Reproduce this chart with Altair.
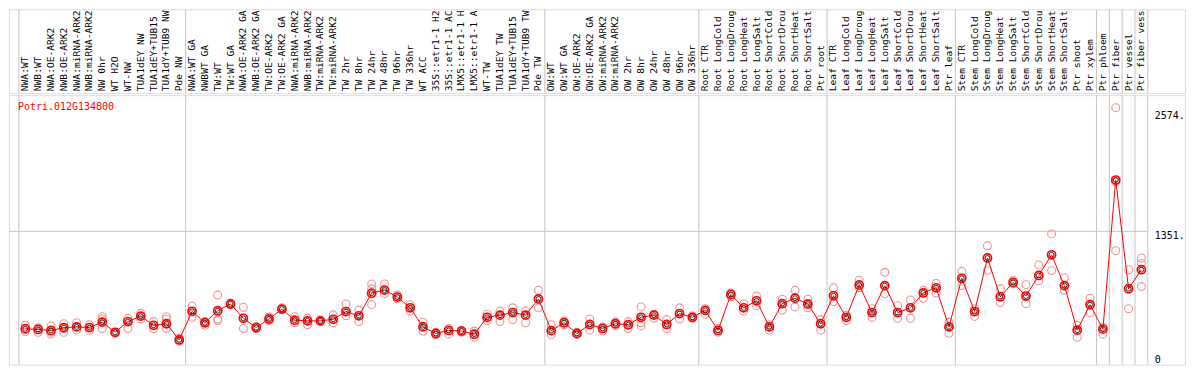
import altair as alt
import pandas as pd

gene = "Potri.012G134800"

samples = [
    "NWA:WT", "NWB:WT", "NWA:OE-ARK2", "NWB:OE-ARK2", "NWA:miRNA-ARK2", "NWB:miRNA-ARK2",
    "NW 0hr", "WT H2O", "WT-NW", "TUA1dEY NW", "TUA1dEY+TUB15", "TUA1dY+TUB9 NW", "Pde NW",
    "NWA:WT GA", "NWBWT GA", "TW:WT", "TW:WT GA", "NWA:OE-ARK2 GA", "NWB:OE-ARK2 GA",
    "TW:OE-ARK2", "TW:OE-ARK2 GA", "NWA:miRNA-ARK2", "NWB:miRNA-ARK2", "TW:miRNA-ARK2",
    "TW:miRNA-ARK2", "TW 2hr", "TW 8hr", "TW 24hr", "TW 48hr", "TW 96hr", "TW 336hr",
    "WT ACC", "35S::etr1-1 H2", "35S::etr1-1 AC", "LMX5::etr1-1 H", "LMX5::etr1-1 A",
    "WT-TW", "TUA1dEY TW", "TUA1dEY+TUB15", "TUA1dY+TUB9 TW", "Pde TW",
    "OW:WT", "OW:WT GA", "OW:OE-ARK2", "OW:OE-ARK2 GA", "OW:miRNA-ARK2", "OW:miRNA-ARK2",
    "OW 2hr", "OW 8hr", "OW 24hr", "OW 48hr", "OW 96hr", "OW 336hr",
    "Root CTR", "Root LongCold", "Root LongDroug", "Root LongHeat", "Root LongSalt",
    "Root ShortCold", "Root ShortDrou", "Root ShortHeat", "Root ShortSalt", "Ptr root",
    "Leaf CTR", "Leaf LongCold", "Leaf LongDroug", "Leaf LongHeat", "Leaf LongSalt",
    "Leaf ShortCold", "Leaf ShortDrou", "Leaf ShortHeat", "Leaf ShortSalt", "Ptr leaf",
    "Stem CTR", "Stem LongCold", "Stem LongDroug", "Stem LongHeat", "Stem LongSalt",
    "Stem ShortCold", "Stem ShortDrou", "Stem ShortHeat", "Stem ShortSalt", "Ptr shoot",
    "Ptr xylem",
    "Ptr phloem", "Ptr fiber", "Ptr vessel", "Ptr fiber vess",
]

means = [
    364, 357, 347, 374, 383, 376, 431, 328, 437, 492, 399, 415, 251,
    541, 425, 547, 615, 470, 376, 463, 563, 451, 444, 444, 460, 538, 495, 724, 756,
    685, 576, 383, 316, 347, 341, 309, 480, 502, 528, 502, 666,
    345, 425, 316, 408, 367, 415, 405, 480, 502, 408, 518, 480,
    550, 347, 711, 576, 647, 383, 618, 673, 615, 415,
    698, 480, 808, 528, 801, 528, 576, 727, 779, 383,
    875, 538, 1081, 688, 833, 695, 904, 1113, 801, 350, 608,
    360, 1870, 769, 962,
]

replicates = [
    [399, 335], [374, 328], [393, 309, 328], [415, 328], [425, 350], [405, 350],
    [486, 367, 463], [328, 318], [470, 367], [521, 463], [437, 367], [486, 463, 367],
    [270, 238],
    [592, 480], [437, 399], [705, 463, 447], [624, 608], [582, 367], [386, 367],
    [483, 447], [576, 560], [486, 425], [470, 405], [454, 434], [505, 425], [615, 495],
    [553, 437], [818, 769, 608], [818, 721], [705, 666], [608, 543], [431, 341],
    [328, 302], [367, 309], [350, 328], [341, 277], [512, 447], [543, 437], [576, 457],
    [543, 425], [753, 576],
    [405, 302], [444, 405], [328, 309], [463, 350], [383, 341], [434, 396], [437, 367],
    [585, 425, 393], [512, 470], [457, 367], [576, 463], [495, 470],
    [567, 512], [367, 328], [727, 688], [618, 543], [695, 598], [405, 350], [663, 553],
    [753, 585], [663, 576], [457, 350],
    [779, 640], [502, 447], [856, 779], [567, 480], [936, 721], [598, 470], [656, 470],
    [753, 673], [823, 727], [431, 318],
    [946, 801], [567, 489], [1204, 953], [769, 630], [856, 818], [811, 618],
    [1011, 849], [1325, 953], [881, 753], [399, 277], [673, 528],
    [383, 309], [2603, 1155, 1852], [962, 567], [1081, 1026, 791],
]

group_breaks = [-0.5, 12.5, 40.5, 52.5, 62.5, 72.5, 83.5, 84.5, 85.5, 86.5, 87.5]
tick_values = [1351, 2574]
tick_labels = ["1351.", "2574."]
zero_label = ["0"]

W = 1178
TOP_H = 84
PLOT_H = 270
FONT = "DejaVu Sans Mono"

x_scale = alt.Scale(domain=[-1.27, 90.4], nice=False, zero=False)
y_scale = alt.Scale(domain=[0, 2730], nice=False, zero=False)

df = pd.DataFrame({"idx": list(range(len(samples))), "sample": samples, "mean": means})
rdf = pd.DataFrame(
    [{"idx": i, "value": v} for i, rs in enumerate(replicates) for v in rs]
)
sep = pd.DataFrame({"pos": group_breaks})
grid = pd.DataFrame({"v": [1351], "x0": [-1.27], "x1": [87.5]})
ticks = pd.DataFrame({"v": tick_values, "lab": tick_labels, "xp": [87.5] * len(tick_values)})
zero = pd.DataFrame({"v": [0], "lab": zero_label, "xp": [87.5]})

X = alt.X("idx:Q", scale=x_scale, axis=None)

sep_rules = alt.Chart(sep).mark_rule(color="#c4c4c4", strokeWidth=1).encode(
    x=alt.X("pos:Q", scale=x_scale, axis=None)
)

label_text = alt.Chart(df).mark_text(
    angle=270, align="left", baseline="middle", font=FONT, fontSize=9.6, color="black"
).encode(x=X, y=alt.value(TOP_H - 2), text="sample:N")

top = alt.layer(sep_rules, label_text).properties(width=W, height=TOP_H)

grid_rule = alt.Chart(grid).mark_rule(color="#c4c4c4", strokeWidth=1).encode(
    x=alt.X("x0:Q", scale=x_scale, axis=None), x2="x1:Q",
    y=alt.Y("v:Q", scale=y_scale, axis=None),
)

tick_text = alt.Chart(ticks).mark_text(
    align="left", baseline="top", dx=7, font=FONT, fontSize=10, color="black"
).encode(
    x=alt.X("xp:Q", scale=x_scale, axis=None),
    y=alt.Y("v:Q", scale=y_scale, axis=None),
    text="lab:N",
)
zero_text = alt.Chart(zero).mark_text(
    align="left", baseline="bottom", dx=7, font=FONT, fontSize=10, color="black"
).encode(
    x=alt.X("xp:Q", scale=x_scale, axis=None),
    y=alt.Y("v:Q", scale=y_scale, axis=None),
    text="lab:N",
)

rep_pts = alt.Chart(rdf).mark_point(
    shape="circle", filled=False, size=62, strokeWidth=1.1, color="#f09494", opacity=1
).encode(x=X, y=alt.Y("value:Q", scale=y_scale, axis=None))

mean_line = alt.Chart(df).mark_line(color="#ff0000", strokeWidth=1).encode(
    x=X, y=alt.Y("mean:Q", scale=y_scale, axis=None)
)

mean_pts = alt.Chart(df).mark_point(
    shape="circle", filled=False, size=66, strokeWidth=1.7, color="#ff0000", opacity=1
).encode(x=X, y=alt.Y("mean:Q", scale=y_scale, axis=None))

mean_core = alt.Chart(df).mark_point(
    shape="circle", filled=False, size=24, strokeWidth=0.8, color="#000000", opacity=1
).encode(x=X, y=alt.Y("mean:Q", scale=y_scale, axis=None))

title_text = alt.Chart(pd.DataFrame({"g": [gene]})).mark_text(
    align="left", baseline="middle", font=FONT, fontSize=10, color="#ff0000"
).encode(x=alt.value(9), y=alt.value(12), text="g:N")

bottom = alt.layer(
    sep_rules, grid_rule, tick_text, zero_text, rep_pts, mean_line, mean_pts, mean_core, title_text
).properties(width=W, height=PLOT_H)

chart = alt.vconcat(top, bottom, spacing=0, padding=0).configure_view(
    stroke="black", strokeWidth=1.5
).configure(background="white")

chart.save("out.html", embed_options={"renderer": "svg", "actions": False})
